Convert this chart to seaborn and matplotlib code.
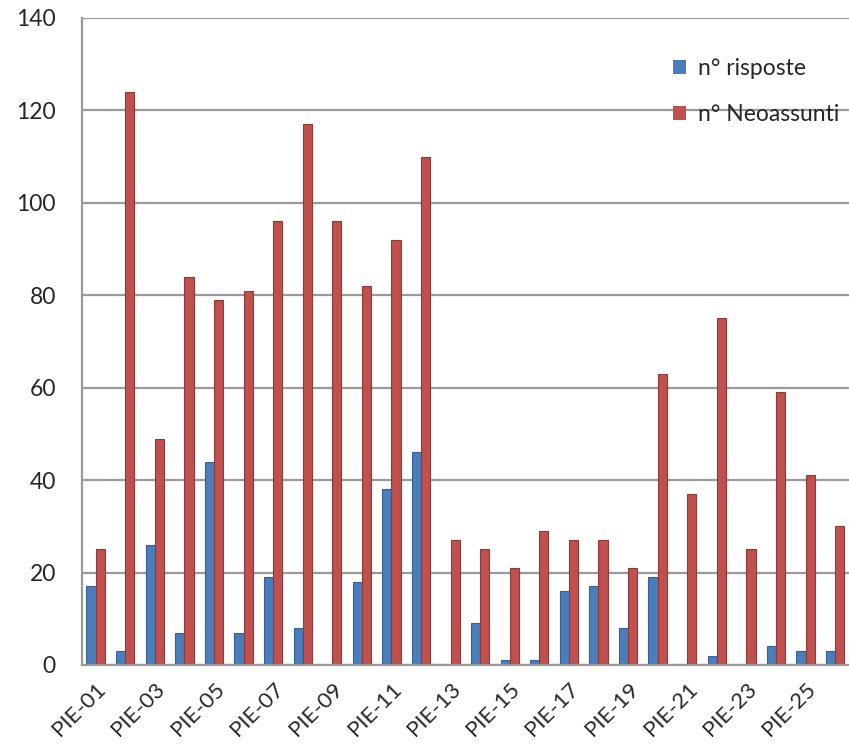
import pandas as pd
import seaborn as sns
import matplotlib.pyplot as plt

codici = ["PIE-%02d" % i for i in range(1, 27)]
risposte = [17, 3, 26, 7, 44, 7, 19, 8, 0, 18, 38, 46, 0,
            9, 1, 1, 16, 17, 8, 19, 0, 2, 0, 4, 3, 3]
neoassunti = [25, 124, 49, 84, 79, 81, 96, 117, 96, 82, 92, 110, 27,
              25, 21, 29, 27, 27, 21, 63, 37, 75, 25, 59, 41, 30]

df = pd.DataFrame({
    "codice": codici * 2,
    "valore": risposte + neoassunti,
    "serie": ["n° risposte"] * 26 + ["n° Neoassunti"] * 26,
})

sns.set_style("white")
plt.rcParams['font.family'] = ['Lato', 'DejaVu Sans']

fig = plt.figure(figsize=(8.49, 7.48), dpi=100)
ax = fig.add_axes([0.097, 0.111, 0.903, 0.865])

barplot = sns.barplot(data=df, x="codice", y="valore", hue="serie",
                      palette=["#4A7EBB", "#C0504D"], width=0.62,
                      saturation=1, edgecolor=None, linewidth=0, ax=ax)
for cont, dark in zip(barplot.containers, ["#35629A", "#8E3A38"]):
    for bar in cont:
        bar.set_edgecolor(dark)
        bar.set_linewidth(0.8)

ax.set_ylim(0, 140)
ax.set_yticks(range(0, 141, 20))
ax.set_xlim(-0.45, 25.47)
ax.yaxis.grid(True, color="#9A9A9A", linewidth=1.6)
ax.set_axisbelow(True)
ax.set_xticks(range(0, 26, 2))
ax.set_xticklabels(codici[::2], rotation=45, ha="right", rotation_mode="anchor")
ax.tick_params(axis="y", length=0, pad=19, labelsize=16.5)
ax.tick_params(axis="x", length=0, pad=10, labelsize=16)
for s in ["top", "right"]:
    ax.spines[s].set_visible(False)
ax.spines["left"].set_color("#9A9A9A")
ax.spines["left"].set_linewidth(1.6)
ax.spines["bottom"].set_color("#9A9A9A")
ax.spines["bottom"].set_linewidth(1.6)
ax.set_xlabel("")
ax.set_ylabel("")

ax.legend(loc="upper left", bbox_to_anchor=(0.743, 0.97), frameon=False,
          fontsize=16.5, handlelength=0.6, handleheight=0.6, labelspacing=1.1,
          handletextpad=0.5)

plt.savefig("out.png", dpi=100)
